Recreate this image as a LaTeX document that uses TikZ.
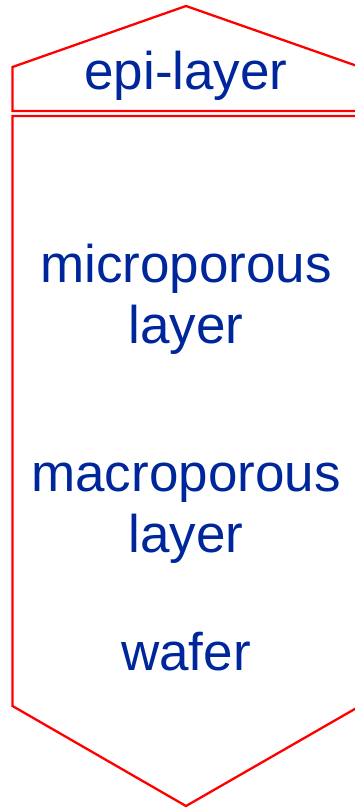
\documentclass[tikz,border=0pt]{standalone}
\usepackage{fontspec}
\setmainfont{Liberation Sans}
\definecolor{labelblue}{RGB}{0,38,155}
\begin{document}
\begin{tikzpicture}[x=1pt,y=-1pt,
  layerline/.style={draw=red,line width=2.3pt,line join=miter},
  lbl/.style={text=labelblue,font=\fontsize{53}{61.5}\selectfont,align=center,anchor=base,inner sep=0pt}]
\useasboundingbox (0,0) rectangle (355,808);
\clip (0,0) rectangle (355,808);
\draw[layerline] (12.5,111) -- (12.5,67) -- (186,6) -- (360,67) -- (360,111) -- cycle;
\draw[layerline] (12.5,116) -- (12.5,706) -- (186,806) -- (360,706) -- (360,116) -- cycle;
\node[lbl] (epi) at (186,89) {epi-layer};
\node[lbl] (micro) at (186,343.5) {microporous\\layer};
\node[lbl] (macro) at (186,552.5) {macroporous\\layer};
\node[lbl] (wafer) at (186,670) {wafer};
\end{tikzpicture}
\end{document}
